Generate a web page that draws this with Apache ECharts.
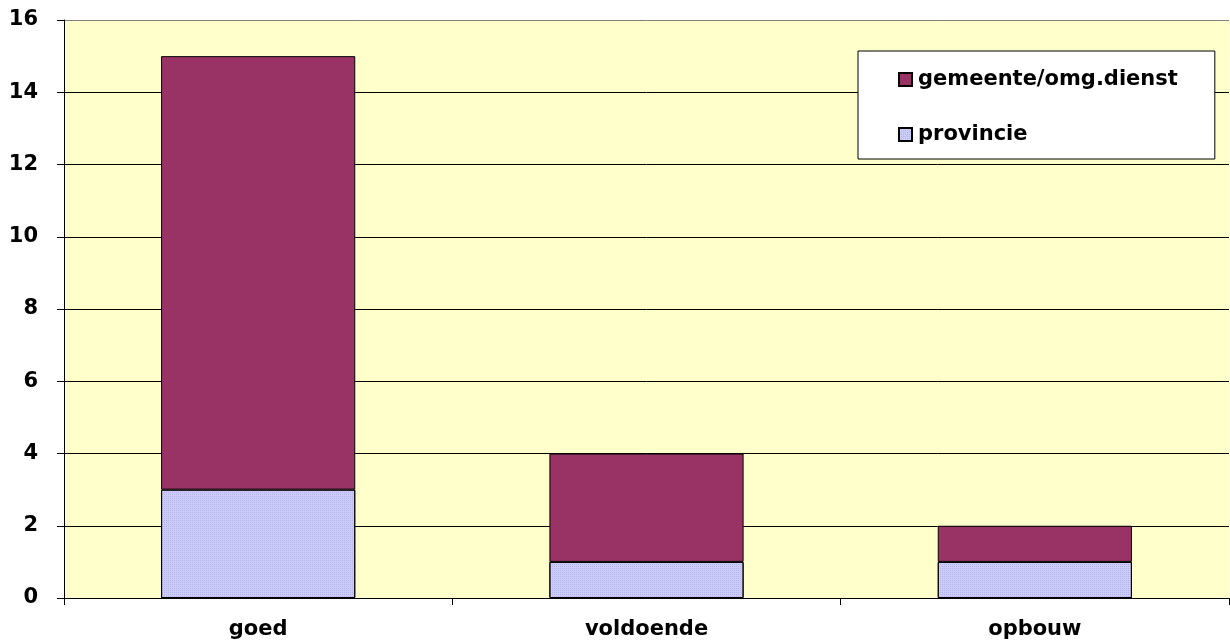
<!DOCTYPE html>
<html>
<head>
<meta charset="utf-8">
<script src="https://cdn.jsdelivr.net/npm/echarts@6/dist/echarts.min.js"></script>
<style>
  html, body { margin: 0; padding: 0; background: #ffffff; }
  #chart { width: 1230px; height: 641px; }
</style>
</head>
<body>
<div id="chart"></div>
<script>
const categories = ['goed', 'voldoende', 'opbouw']
const provincie = [3, 1, 1]
const gemeente = [12, 3, 1]
const yTicks = [0, 2, 4, 6, 8, 10, 12, 14, 16]

const font = 'DejaVu Sans, sans-serif'
const chart = echarts.init(document.getElementById('chart'))

chart.setOption({
  animation: false,
  grid: {
    left: 64, right: 1, top: 20, bottom: 43,
    show: true, backgroundColor: '#ffffcc', borderWidth: 0
  },
  legend: {
    data: ['gemeente/omg.dienst', 'provincie'],
    orient: 'vertical',
    left: 858, top: 51,
    padding: [18, 37, 14, 40],
    itemGap: 34,
    itemWidth: 13, itemHeight: 13,
    icon: 'rect',
    backgroundColor: '#ffffff',
    borderColor: '#000000', borderWidth: 1,
    textStyle: { fontFamily: font, fontWeight: 'bold', fontSize: 21, color: '#000', padding: [0, 0, 0, 1] }
  },
  xAxis: {
    type: 'category',
    data: categories,
    axisLine: { lineStyle: { color: '#000', width: 1 } },
    axisTick: { show: true, length: 7, lineStyle: { color: '#000' } },
    axisLabel: { fontFamily: font, fontWeight: 'bold', fontSize: 21, color: '#000', margin: 21 }
  },
  yAxis: {
    type: 'value',
    min: yTicks[0], max: yTicks[yTicks.length - 1], interval: 2,
    axisLine: { show: true, lineStyle: { color: '#000' } },
    axisTick: { show: true, length: 7, lineStyle: { color: '#000' } },
    axisLabel: { fontFamily: font, fontWeight: 'bold', fontSize: 21, color: '#000', margin: 26 },
    splitLine: {
      lineStyle: {
        color: yTicks.map((v, i) => i === yTicks.length - 1 ? '#808080' : '#000'),
        width: 1
      }
    }
  },
  series: [
    {
      name: 'provincie',
      type: 'bar',
      stack: 'total',
      barWidth: '50%',
      data: provincie,
      itemStyle: {
        color: '#ccccf8',
        borderColor: '#000', borderWidth: 1,
        decal: {
          symbol: 'rect', symbolSize: 1, color: 'rgba(150,150,220,0.45)',
          dashArrayX: [1, 1], dashArrayY: [1, 1], rotation: 0
        }
      }
    },
    {
      name: 'gemeente/omg.dienst',
      type: 'bar',
      stack: 'total',
      barWidth: '50%',
      data: gemeente,
      itemStyle: { color: '#993366', borderColor: '#000', borderWidth: 1 }
    }
  ]
})
</script>
</body>
</html>
